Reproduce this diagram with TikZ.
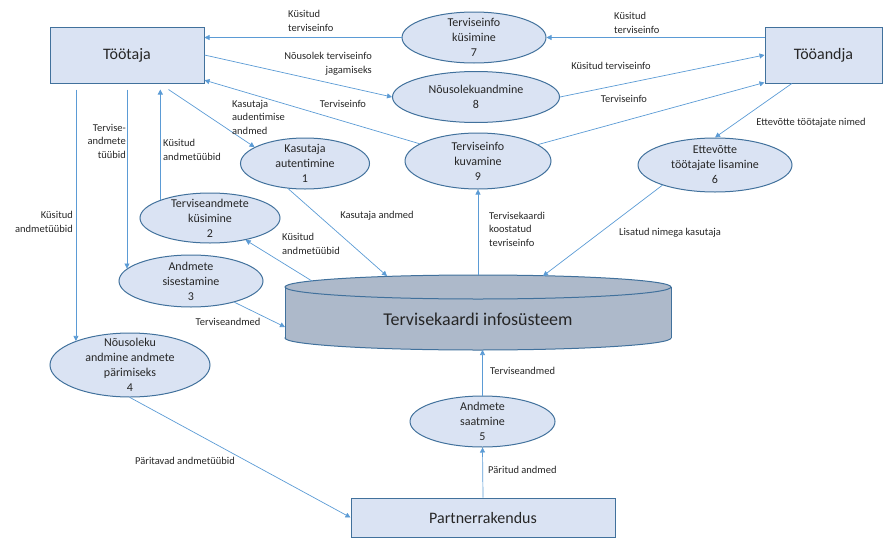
\documentclass[tikz,border=0pt]{standalone}
\usepackage{fontspec}
\setmainfont{Carlito}
\usetikzlibrary{shapes.geometric,arrows.meta,calc}
\definecolor{boxfill}{HTML}{DAE3F3}
\definecolor{boxline}{HTML}{41719C}
\definecolor{flow}{HTML}{5B9BD5}
\definecolor{dbfill}{HTML}{ADB9CA}
\definecolor{ink}{HTML}{262626}

\begin{document}
\begin{tikzpicture}[x=1pt,y=-1pt,
  entity/.style={draw=boxline, fill=boxfill, line width=1pt, inner sep=0pt,
    text=ink, font=\fontsize{16}{19}\selectfont},
  proc/.style={ellipse, draw=boxline, fill=boxfill, line width=1pt, inner sep=0pt},
  proctext/.style={align=center, inner sep=0pt, text=ink, font=\fontsize{12}{15}\selectfont},
  flowline/.style={draw=flow, line width=0.7pt, -{Triangle[length=5pt,width=5pt]}},
  lbl/.style={inner sep=0pt, text=ink, font=\fontsize{10.5}{13.5}\selectfont},
]
\useasboundingbox (0,0) rectangle (891,538);

% external entities
\node[entity, minimum width=154pt, minimum height=56pt] (toot) at (127,55) {Töötaja};
\node[entity, minimum width=117pt, minimum height=56pt] (tooa) at (823.5,55) {Tööandja};
\node[entity, minimum width=264pt, minimum height=39pt] (partner) at (483,517.5) {Partnerrakendus};

% data store (cylinder)
\fill[dbfill, draw=boxline, line width=1pt] (478,338) ellipse [x radius=193pt, y radius=12pt];
\fill[dbfill] (285,287) rectangle (671,338);
\draw[boxline, line width=1pt] (285,287) -- (285,338) (671,287) -- (671,338);
\fill[dbfill, draw=boxline, line width=1pt] (478,287) ellipse [x radius=193pt, y radius=12pt];
\node[inner sep=0pt, text=ink, font=\fontsize{18}{21}\selectfont] (db) at (478,319) {Tervisekaardi infosüsteem};
\coordinate (db1) at (387,276);
\coordinate (db2) at (312,281);
\coordinate (db3) at (285,327);
\coordinate (db5) at (482.5,350);
\coordinate (db6) at (543,276);
\coordinate (db9) at (478,275);

% processes
\node[proc, minimum width=144pt, minimum height=51pt] (e7) at (474,37.5) {};
\node[proctext] (e7t) at (e7) {Terviseinfo\\küsimine\\7};
\node[proc, minimum width=167pt, minimum height=51pt] (e8) at (476,97) {};
\node[proctext] (e8t) at (e8) {Nõusolekuandmine\\8};
\node[proc, minimum width=146pt, minimum height=56pt] (e9) at (478,161) {};
\node[proctext] (e9t) at (e9) {Terviseinfo\\kuvamine\\9};
\node[proc, minimum width=154pt, minimum height=54pt] (e6) at (715,165) {};
\node[proctext] (e6t) at (e6) {Ettevõtte\\töötajate lisamine\\6};
\node[proc, minimum width=129pt, minimum height=51pt] (e1) at (305,163.5) {};
\node[proctext] (e1t) at (e1) {Kasutaja\\autentimine\\1};
\node[proc, minimum width=140pt, minimum height=50pt] (e2) at (210,218) {};
\node[proctext] (e2t) at (e2) {Terviseandmete\\küsimine\\2};
\node[proc, minimum width=144pt, minimum height=52pt] (e3) at (191,281) {};
\node[proctext] (e3t) at (e3) {Andmete\\sisestamine\\3};
\node[proc, minimum width=160pt, minimum height=64pt] (e4) at (130,365) {};
\node[proctext] (e4t) at (e4) {Nõusoleku\\andmine andmete\\pärimiseks\\4};
\node[proc, minimum width=145pt, minimum height=51pt] (e5) at (482.5,421.5) {};
\node[proctext] (e5t) at (e5) {Andmete\\saatmine\\5};

% data flows
\draw[flowline] (e7.west) -- (e7.west -| toot.east);
\draw[flowline] (tooa.west |- e7.east) -- (e7.east);
\draw[flowline] (toot.east) -- (e8.west);
\draw[flowline] (e8.east) -- (tooa.west);
\draw[flowline] (e9) -- (toot.-18);
\draw[flowline] (e9) -- (tooa.205);
\draw[flowline] (tooa.222) -- (e6.north);
\draw[flowline] (e6.201) -- (db6);
\draw[flowline] (db9) -- (e9.south);
\draw[flowline] ($(toot.south west)+(119,6)$) -- (e1.162);
\draw[flowline] (e1.-124) -- (db1);
\draw[flowline, shorten >=6pt] (e2.160) -- (e2.160 |- toot.south);
\draw[flowline] (db2) -- (e2);
\draw[flowline, shorten <=6pt] (e3.169 |- toot.south) -- (e3.169);
\draw[flowline] (e3) -- (db3);
\draw[flowline, shorten <=6pt] (e4.156 |- toot.south) -- (e4.156);
\draw[flowline] (e4.south) -- (partner.west);
\draw[flowline] (partner.north) -- (e5.south);
\draw[flowline] (e5.north) -- (db5);

% flow labels
\node[lbl, align=left, anchor=west] (l1) at (288,21) {Küsitud\\terviseinfo};
\node[lbl, align=left, anchor=west] (l2) at (614,23) {Küsitud\\terviseinfo};
\node[lbl, align=right, anchor=east] (l3) at (372,64) {Nõusolek terviseinfo\\jagamiseks};
\node[lbl] (l4) at (611,66) {Küsitud terviseinfo};
\node[lbl] (l5) at (343,104) {Terviseinfo};
\node[lbl] (l6) at (624,99) {Terviseinfo};
\node[lbl, align=left, anchor=west] (l7) at (232,117) {Kasutaja\\audentimise\\andmed};
\node[lbl] (l8) at (811,123) {Ettevõtte töötajate nimed};
\node[lbl, align=right, anchor=east] (l9) at (126,141) {Tervise-\\andmete\\tüübid};
\node[lbl, align=left, anchor=west] (l10) at (163,150) {Küsitud\\andmetüübid};
\node[lbl, align=right, anchor=east] (l11) at (73,222) {Küsitud\\andmetüübid};
\node[lbl] (l12) at (377,216) {Kasutaja andmed};
\node[lbl, align=left, anchor=west] (l13) at (282,244) {Küsitud\\andmetüübid};
\node[lbl] (l14) at (228,322) {Terviseandmed};
\node[lbl, align=left, anchor=west] (l15) at (489,229) {Tervisekaardi\\koostatud\\tevriseinfo};
\node[lbl] (l16) at (670,233) {Lisatud nimega kasutaja};
\node[lbl, anchor=west] (l17) at (490,371) {Terviseandmed};
\node[lbl, anchor=west] (l18) at (488,470) {Päritud andmed};
\node[lbl] (l19) at (185,461) {Päritavad andmetüübid};
\end{tikzpicture}
\end{document}
